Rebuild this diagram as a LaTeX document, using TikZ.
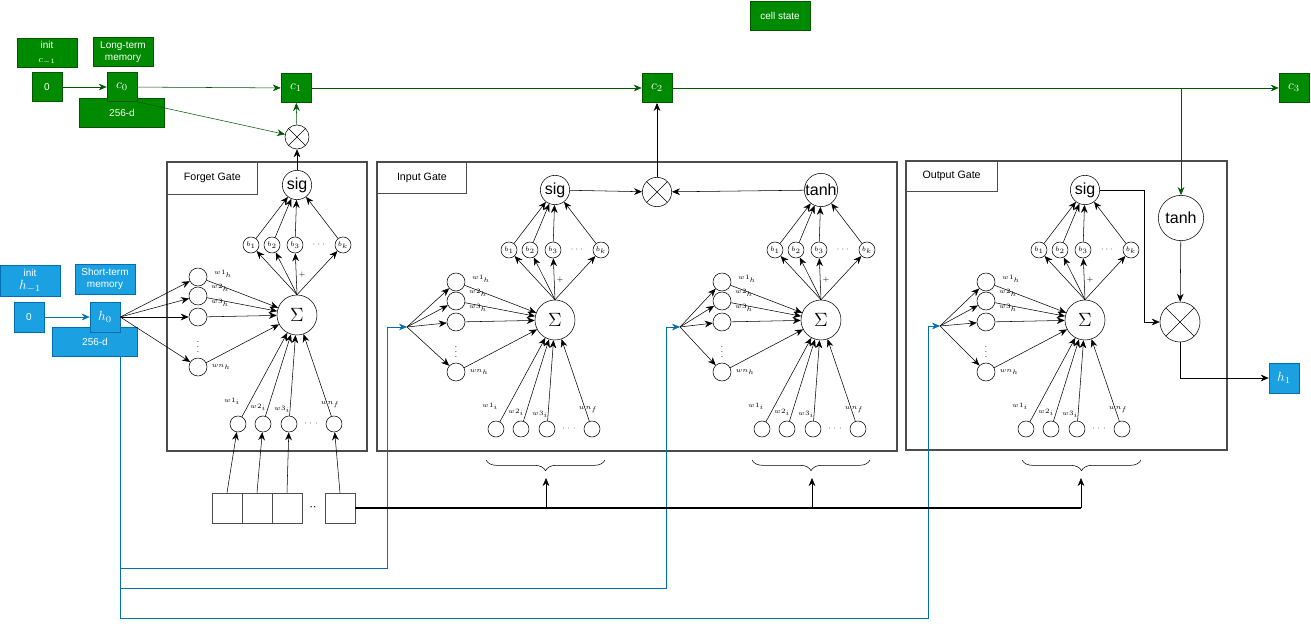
\documentclass[tikz,border=0pt]{standalone}
\usepackage{fontspec}
\setmainfont{Liberation Sans}
\usetikzlibrary{arrows.meta,decorations.pathreplacing,calc}
\definecolor{gfill}{HTML}{008A00}
\definecolor{gline}{HTML}{005700}
\definecolor{bfill}{HTML}{1BA1E2}
\definecolor{bline}{HTML}{006EAF}
\tikzset{
 >={Stealth[length=6pt,width=5pt]},
 neu/.style={circle,draw,inner sep=0pt},
 sumn/.style={neu,minimum size=30pt,font=\Large},
 hid/.style={neu,minimum size=13.5pt},
 bia/.style={neu,minimum size=12pt,font=\fontsize{4.5}{5}\selectfont},
 act/.style={neu,minimum size=22pt,font=\fontsize{12}{13}\selectfont},
 wl/.style={font=\fontsize{5}{6}\selectfont,inner sep=0pt},
 dt/.style={font=\fontsize{6}{6}\selectfont,inner sep=0pt},
 gbox/.style={draw=gline,fill=gfill,text=white,font=\fontsize{7.5}{9}\selectfont,inner sep=0pt,align=center},
 bbox/.style={draw=bline,fill=bfill,text=white,font=\fontsize{7.5}{9}\selectfont,inner sep=0pt,align=center},
 big/.style={font=\fontsize{10}{11}\selectfont},
 gate/.style={draw=black!70,line width=0.8pt},
 glab/.style={draw=black!70,font=\fontsize{8}{9}\selectfont,inner sep=0pt},
 mult/.style={neu,path picture={\draw (path picture bounding box.north west)--(path picture bounding box.south east) (path picture bounding box.north east)--(path picture bounding box.south west);}},
 gl/.style={draw=gline,->},
 bl/.style={draw=bline,->},
}
\newcommand{\lstmunit}[5]{%
\begin{scope}[shift={(#2,#3)}]
 \node[sumn] (#1s) at (0,0) {$\Sigma$};
 \node[hid] (#1h1) at (-99,-38) {};
 \node[hid] (#1h2) at (-99,-19) {};
 \node[hid] (#1h3) at (-99,2) {};
 \node[hid] (#1h4) at (-99,52) {};
 \node[dt] (#1hd) at (-99,28) {$\vdots$};
 \node[bia] (#1b1) at (-46,-70) {$b_1$};
 \node[bia] (#1b2) at (-25,-70) {$b_2$};
 \node[bia] (#1b3) at (-2,-70) {$b_3$};
 \node[bia] (#1b4) at (46,-70) {$b_k$};
 \node[dt] (#1bd) at (22,-70) {$\cdots$};
 \node[act] (#1a) at (0,-130) {#5};
 \node[hid,minimum size=12pt] (#1i1) at (-59,109) {};
 \node[hid,minimum size=12pt] (#1i2) at (-34,109) {};
 \node[hid,minimum size=12pt] (#1i3) at (-8,109) {};
 \node[hid,minimum size=12pt] (#1i4) at (37,109) {};
 \node[dt] (#1id) at (14,109) {$\cdot\cdot\cdot$};
 \node[wl] (#1w1) at (-74,-41) {$w1_h$};
 \node[wl] (#1w2) at (-77,-27) {$w2_h$};
 \node[wl] (#1w3) at (-77,-12) {$w3_h$};
 \node[wl] (#1w4) at (-76,52) {$wn_h$};
 \node[wl] (#1v1) at (-65,86) {$w1_i$};
 \node[wl] (#1v2) at (-39,92) {$w2_i$};
 \node[wl] (#1v3) at (-15,94) {$w3_i$};
 \node[wl] (#1v4) at (33,90) {$wn_f$};
 \node[wl] (#1pl) at (5,-40) {$+$};
\end{scope}
 \foreach \k in {1,2,3,4}{
  \draw[->] (#4) -- (#1h\k);
  \draw[->] (#1h\k) -- (#1s);
  \draw[->] (#1s.north) -- (#1b\k);
  \draw[->] (#1b\k) -- (#1a);
  \draw[->] (#1i\k) -- (#1s);
 }
}
\begin{document}
\begin{tikzpicture}[x=0.75pt,y=-0.75pt]
\useasboundingbox (0,0) rectangle (1311,628);
\draw[gate] (167,162) rectangle (367,451);
\node[glab,minimum width=67.5pt,minimum height=24pt,anchor=north west] (fgl) at (167,162) {Forget Gate};
\draw[gate] (377,162) rectangle (897,451);
\node[glab,minimum width=67pt,minimum height=23pt,anchor=north west] (igl) at (377,162) {Input Gate};
\draw[gate] (906,161) rectangle (1227,450);
\node[glab,minimum width=68pt,minimum height=22.5pt,anchor=north west] (ogl) at (906,161) {Output Gate};
\node[gbox,minimum width=45pt,minimum height=22pt] (cst) at (780,16) {cell state};
\node[gbox,minimum width=45pt,minimum height=22pt] (cinit) at (47,53) {init\\[1pt]$c_{-1}$};
\node[gbox,minimum width=22.5pt,minimum height=22pt] (c0z) at (47,87) {0};
\node[gbox,minimum width=45pt,minimum height=22pt] (ltm) at (123,52) {Long-term\\memory};
\node[gbox,minimum width=64pt,minimum height=22pt] (c0d) at (122,113) {256-d};
\node[gbox,big,minimum width=22.5pt,minimum height=22pt] (c0) at (122,87) {$c_0$};
\node[gbox,big,minimum width=22.5pt,minimum height=22pt] (c1) at (296,88) {$c_1$};
\node[gbox,big,minimum width=22.5pt,minimum height=22pt] (c2) at (657,88) {$c_2$};
\node[gbox,big,minimum width=22.5pt,minimum height=22pt] (c3) at (1294,88) {$c_3$};
\node[bbox,minimum width=45pt,minimum height=23pt] (hinit) at (30,281) {init\\[1pt]{\fontsize{10}{11}\selectfont$h_{-1}$}};
\node[bbox,minimum width=22.5pt,minimum height=22.5pt] (h0z) at (29,317) {0};
\node[bbox,minimum width=45pt,minimum height=22.5pt] (stm) at (105,279) {Short-term\\memory};
\node[bbox,minimum width=64pt,minimum height=22pt] (h0d) at (95,342) {256-d};
\node[bbox,big,minimum width=22.5pt,minimum height=22.5pt] (h0) at (105,317) {$h_0$};
\node[bbox,big,minimum width=22.5pt,minimum height=22.5pt] (h1) at (1284,378) {$h_1$};
\coordinate (isrc) at (407,327);
\coordinate (tsrc) at (680,327);
\coordinate (osrc) at (940,326);
\lstmunit{f}{297}{315}{h0.east}{sig}
\lstmunit{i}{555}{320}{isrc}{sig}
\lstmunit{t}{821}{320}{tsrc}{tanh}
\lstmunit{o}{1085}{320}{osrc}{sig}
\node[mult,minimum size=18pt] (fm) at (297,137) {};
\node[mult,minimum size=22pt] (im) at (657,192) {};
\node[mult,minimum size=30pt] (om) at (1180,322) {};
\node[act,minimum size=34pt] (ot) at (1181,218) {tanh};
\draw[gl] (c0z) -- (c0);
\draw[gl] (c0) -- (c1);
\draw[gl] (c0.south east) -- (fm);
\draw[gl] (fm) -- (c1);
\draw[gl] (c1) -- (c2);
\draw[gl] (c2) -- (c3);
\coordinate (tap) at (1181,88);
\draw[gl] (tap) -- (ot);
\draw[->] (fa) -- (fm);
\draw[->] (ia) -- (im);
\draw[->] (ta) -- (im);
\draw[->] (im) -- (c2);
\draw[->] (oa.east) -| ($(om.west)+(-15,0)$) -- (om.west);
\draw[->] (ot) -- (om);
\draw[->] (om.south) |- (h1.west);
\draw[bl] (h0z) -- (h0);
\coordinate (bv) at (120,357);
\draw[bl] (bv) |- (387,568) |- (isrc);
\draw[bl] (bv) |- (666,588) |- (tsrc);
\draw[bl] (bv) |- (928,618) |- (osrc);
\foreach \n/\x in {x1/227,x2/257,x3/287,x4/340}
 \node[draw=black!70,minimum size=22.5pt,inner sep=0pt] (\n) at (\x,508) {};
\node[inner sep=0pt] (xd) at (313,508) {$\cdot\cdot$};
\foreach \k in {1,2,3,4} \draw[->] (x\k.north) -- (fi\k);
\coordinate (xe) at (1081,508);
\draw[line width=0.8pt] (x4.east) -- (xe);
\foreach \n/\a/\b/\m in {br1/486/605/546, br2/752/870/812, br3/1022/1141/1081}{
 \draw[decorate,decoration={brace,mirror,amplitude=8pt}] (\a,460) -- (\b,460);
 \coordinate (\n) at (\m,478);
 \draw[->] (\m,508) -- (\n);
}
\end{tikzpicture}
\end{document}
